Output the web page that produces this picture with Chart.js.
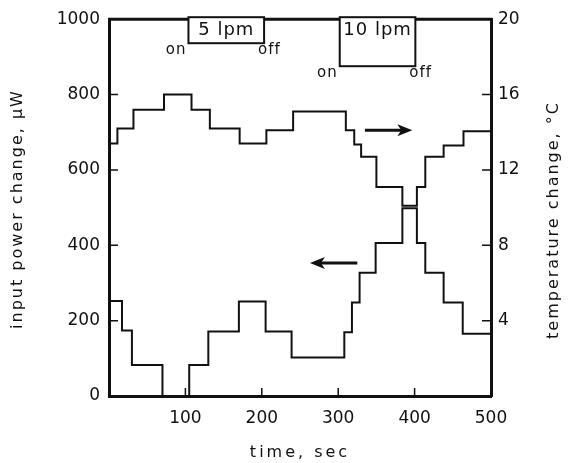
<!DOCTYPE html>
<html>
<head>
<meta charset="utf-8">
<script src="https://cdn.jsdelivr.net/npm/chart.js@4/dist/chart.umd.min.js"></script>
<style>
html,body{margin:0;padding:0;background:#fff;}
#caja{width:569px;height:463px;}
</style>
</head>
<body>
<div id="caja"><canvas id="grafica"></canvas></div>
<script>
// power step curve (left axis, uW)
var tiempoPot = [0, 17, 30, 70, 105, 130, 170, 205, 239, 308, 318, 328, 349, 384, 403, 414, 438, 463, 500];
var potencia  = [252, 174, 82, 0, 82, 171, 251, 171, 102, 169, 248, 327, 406, 498, 406, 327, 248, 165, 165];
// temperature step curve (right axis, C)
var tiempoTemp  = [0, 11, 32, 72, 108, 132, 171, 206, 241, 310, 321, 330, 350, 384, 403, 414, 438, 464, 500];
var temperatura = [13.4, 14.2, 15.2, 16.0, 15.2, 14.2, 13.4, 14.1, 15.1, 14.1, 13.35, 12.7, 11.1, 10.1, 11.1, 12.7, 13.3, 14.05, 14.05];
// flow periods
var flujos    = ['5 lpm', '10 lpm'];
var encendido = [104, 302];
var apagado   = [203, 401];

var negro = '#111';
var fuente = 'DejaVu Sans';
Chart.defaults.font.family = fuente;
Chart.defaults.color = negro;

function puntos(xs, ys){
	var out = [];
	for (var i = 0; i < xs.length; i++) out.push({x: xs[i], y: ys[i]});
	return out;
}

function sinCero(v){ return v === 0 ? '' : String(v); }

function flecha(ctx, x1, x2, y){
	var dir = x2 > x1 ? 1 : -1;
	ctx.beginPath();
	ctx.moveTo(x1, y);
	ctx.lineTo(x2 - dir * 10, y);
	ctx.lineWidth = 3;
	ctx.stroke();
	ctx.beginPath();
	ctx.moveTo(x2, y);
	ctx.lineTo(x2 - dir * 15, y - 6);
	ctx.lineTo(x2 - dir * 11, y);
	ctx.lineTo(x2 - dir * 15, y + 6);
	ctx.closePath();
	ctx.fill();
}

var extras = {
	id: 'extras',
	afterDraw: function(chart){
		var ctx = chart.ctx, a = chart.chartArea;
		var sx = chart.scales.x, sy = chart.scales.y, sy1 = chart.scales.y1;
		ctx.save();
		ctx.strokeStyle = negro;
		ctx.fillStyle = negro;

		// top frame line
		ctx.lineWidth = 3;
		ctx.beginPath();
		ctx.moveTo(a.left - 1, a.top);
		ctx.lineTo(a.right + 1, a.top);
		ctx.stroke();

		// inward ticks
		ctx.lineWidth = 1.5;
		ctx.beginPath();
		sy.ticks.forEach(function(t){
			if (t.value <= sy.min || t.value >= sy.max) return;
			var p = sy.getPixelForValue(t.value);
			ctx.moveTo(a.left, p); ctx.lineTo(a.left + 9, p);
		});
		sy1.ticks.forEach(function(t){
			if (t.value <= sy1.min || t.value >= sy1.max) return;
			var p = sy1.getPixelForValue(t.value);
			ctx.moveTo(a.right, p); ctx.lineTo(a.right - 9, p);
		});
		sx.ticks.forEach(function(t){
			if (t.value <= sx.min || t.value >= sx.max) return;
			var p = sx.getPixelForValue(t.value);
			ctx.moveTo(p, a.bottom); ctx.lineTo(p, a.bottom - 8);
		});
		ctx.stroke();

		// flow boxes
		var altos = [26, 49];
		for (var i = 0; i < flujos.length; i++){
			var x1 = sx.getPixelForValue(encendido[i]);
			var x2 = sx.getPixelForValue(apagado[i]);
			var y1 = a.top - 2, y2 = y1 + altos[i];
			ctx.fillStyle = '#fff';
			ctx.fillRect(x1, y1, x2 - x1, y2 - y1);
			ctx.fillStyle = negro;
			ctx.lineWidth = 2;
			ctx.strokeRect(x1, y1, x2 - x1, y2 - y1);
			ctx.font = '18px "' + fuente + '"';
			ctx.textAlign = 'center';
			ctx.textBaseline = 'middle';
			ctx.letterSpacing = '1px';
			ctx.fillText(flujos[i], (x1 + x2) / 2, y1 + 13);
			ctx.font = '15px "' + fuente + '"';
			ctx.letterSpacing = '1px';
			ctx.textAlign = 'right';
			ctx.fillText('on', x1 - 2, y2 + 7);
			ctx.textAlign = 'left';
			ctx.fillText('off', x2 - 6, y2 + 7);
		}

		// arrows pointing to each curve's axis
		flecha(ctx, sx.getPixelForValue(335), sx.getPixelForValue(397), sy1.getPixelForValue(14.1));
		flecha(ctx, sx.getPixelForValue(325), sx.getPixelForValue(263), sy.getPixelForValue(353));

		// axis titles
		ctx.font = '16px "' + fuente + '"';
		ctx.textAlign = 'center';
		ctx.textBaseline = 'middle';
		ctx.letterSpacing = '3px';
		ctx.fillText('time, sec', (a.left + a.right) / 2, 453);
		ctx.letterSpacing = '2px';
		ctx.save();
		ctx.translate(18, 209);
		ctx.rotate(-Math.PI / 2);
		ctx.fillText('input power change, \u03bcW', 0, 0);
		ctx.restore();
		ctx.save();
		ctx.translate(554, 220);
		ctx.rotate(-Math.PI / 2);
		ctx.fillText('temperature change, \u00b0C', 0, 0);
		ctx.restore();
		ctx.restore();
	}
};

var config = {
	type: 'line',
	data: {
		datasets: [{
			label: 'input power change',
			data: puntos(tiempoPot, potencia),
			yAxisID: 'y',
			stepped: true,
			borderColor: negro,
			borderWidth: 2,
			pointRadius: 0,
			fill: false
		}, {
			label: 'temperature change',
			data: puntos(tiempoTemp, temperatura),
			yAxisID: 'y1',
			stepped: true,
			borderColor: negro,
			borderWidth: 2,
			pointRadius: 0,
			fill: false
		}]
	},
	options: {
		responsive: true,
		maintainAspectRatio: false,
		animation: false,
		layout: { padding: { top: 16, left: 0, right: 0, bottom: 0 } },
		plugins: { legend: { display: false }, tooltip: { enabled: false } },
		scales: {
			x: {
				type: 'linear', min: 0, max: 500,
				ticks: { stepSize: 100, padding: 12, font: { size: 17 }, color: negro, callback: sinCero },
				grid: { display: false, drawTicks: false },
				border: { display: true, color: negro, width: 3 },
				afterFit: function(s){ s.height = 67; }
			},
			y: {
				position: 'left', min: 0, max: 1000,
				ticks: { stepSize: 200, padding: 9, font: { size: 17 }, color: negro,
					callback: function(v){ return String(v); } },
				grid: { display: false, drawTicks: false },
				border: { display: true, color: negro, width: 3 },
				afterFit: function(s){ s.width = 109; }
			},
			y1: {
				position: 'right', min: 0, max: 20,
				ticks: { stepSize: 4, padding: 7, font: { size: 17 }, color: negro, callback: sinCero },
				grid: { display: false, drawTicks: false },
				border: { display: true, color: negro, width: 3 },
				afterFit: function(s){ s.width = 78; }
			}
		}
	},
	plugins: [extras]
};

var lienzo = document.getElementById('grafica').getContext('2d');
window.grafica = new Chart(lienzo, config);
</script>
</body>
</html>
